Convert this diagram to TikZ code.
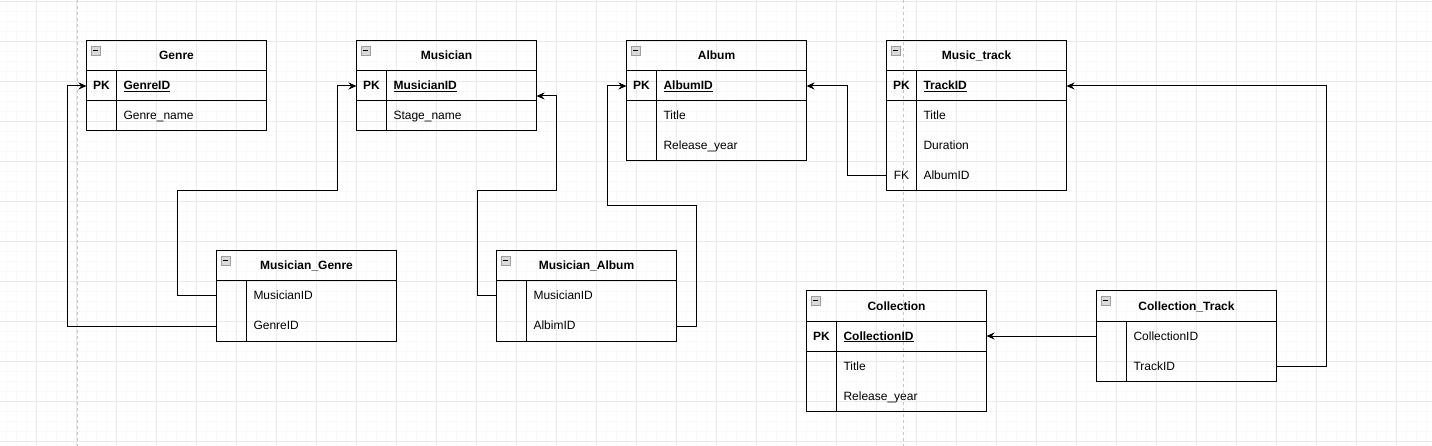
\documentclass[tikz,border=0pt]{standalone}
\usepackage{fontspec}
\setmainfont{Liberation Sans}
\usetikzlibrary{arrows.meta, positioning}

\begin{document}
\begin{tikzpicture}[x=1pt, y=-1pt, >={Stealth[length=8pt, width=7pt]},
    font=\fontsize{12}{14}\selectfont,
    minorgrid/.style={gray!5, line width=0.7pt},
    majorgrid/.style={gray!17, line width=0.8pt},
    pageline/.style={gray!45, line width=0.8pt, dash pattern=on 3pt off 3pt},
    tabhead/.style={draw, line width=1pt, outer sep=0pt, minimum width=180pt,
        minimum height=30pt, text height=10pt, text depth=2pt,
        font=\fontsize{12}{14}\selectfont\bfseries},
    keycell/.style={outer sep=0pt, inner sep=0pt, minimum width=30pt, minimum height=30pt,
        text height=10pt, text depth=2pt},
    field/.style={outer sep=0pt, inner xsep=7pt, inner ysep=0pt, text width=136pt,
        minimum height=30pt, text height=10pt, text depth=2pt, align=left},
    frame/.style={draw, line width=1pt},
    icon/.style={draw=gray!75, fill=gray!30, line width=0.8pt},
    link/.style={->, line width=1pt}]
    \useasboundingbox (0,0) rectangle (1432,446);

    % background grid
    \foreach \gx in {0,...,142} \draw[minorgrid] ({6.5+10*\gx},0) -- ({6.5+10*\gx},446);
    \foreach \gy in {0,...,44} \draw[minorgrid] (0,{1.5+10*\gy}) -- (1432,{1.5+10*\gy});
    \foreach \gx in {0,...,35} \draw[majorgrid] ({36.5+40*\gx},0) -- ({36.5+40*\gx},446);
    \foreach \gy in {0,...,11} \draw[majorgrid] (0,{1.5+40*\gy}) -- (1432,{1.5+40*\gy});
    \draw[pageline] (77,0) -- (77,446);
    \draw[pageline] (903,0) -- (903,446);

    % Genre
    \node[tabhead] (genre) at (176.5,56) {Genre};
    \node[keycell, anchor=north west] (genK1) at (genre.south west) {\bfseries PK};
    \node[field, right=0pt of genK1] (genF1) {\bfseries\underline{GenreID}};
    \node[keycell, below=0pt of genK1] (genK2) {};
    \node[field, right=0pt of genK2] (genF2) {Genre\_name};

    % Musician
    \node[tabhead] (musician) at (446.5,56) {Musician};
    \node[keycell, anchor=north west] (musK1) at (musician.south west) {\bfseries PK};
    \node[field, right=0pt of musK1] (musF1) {\bfseries\underline{MusicianID}};
    \node[keycell, below=0pt of musK1] (musK2) {};
    \node[field, right=0pt of musK2] (musF2) {Stage\_name};

    % Album
    \node[tabhead] (album) at (716.5,56) {Album};
    \node[keycell, anchor=north west] (albK1) at (album.south west) {\bfseries PK};
    \node[field, right=0pt of albK1] (albF1) {\bfseries\underline{AlbumID}};
    \node[keycell, below=0pt of albK1] (albK2) {};
    \node[field, right=0pt of albK2] (albF2) {Title};
    \node[keycell, below=0pt of albK2] (albK3) {};
    \node[field, right=0pt of albK3] (albF3) {Release\_year};

    % Music_track
    \node[tabhead] (track) at (976.5,56) {Music\_track};
    \node[keycell, anchor=north west] (trkK1) at (track.south west) {\bfseries PK};
    \node[field, right=0pt of trkK1] (trkF1) {\bfseries\underline{TrackID}};
    \node[keycell, below=0pt of trkK1] (trkK2) {};
    \node[field, right=0pt of trkK2] (trkF2) {Title};
    \node[keycell, below=0pt of trkK2] (trkK3) {};
    \node[field, right=0pt of trkK3] (trkF3) {Duration};
    \node[keycell, below=0pt of trkK3] (trkK4) {FK};
    \node[field, right=0pt of trkK4] (trkF4) {AlbumID};

    % Musician_Genre
    \node[tabhead] (musgenre) at (306.5,266) {Musician\_Genre};
    \node[keycell, anchor=north west] (mgK1) at (musgenre.south west) {};
    \node[field, right=0pt of mgK1] (mgF1) {MusicianID};
    \node[keycell, below=0pt of mgK1] (mgK2) {};
    \node[field, right=0pt of mgK2] (mgF2) {GenreID};

    % Musician_Album
    \node[tabhead] (musalbum) at (586.5,266) {Musician\_Album};
    \node[keycell, anchor=north west] (maK1) at (musalbum.south west) {};
    \node[field, right=0pt of maK1] (maF1) {MusicianID};
    \node[keycell, below=0pt of maK1] (maK2) {};
    \node[field, right=0pt of maK2] (maF2) {AlbimID};

    % Collection
    \node[tabhead] (collection) at (896.5,306) {Collection};
    \node[keycell, anchor=north west] (colK1) at (collection.south west) {\bfseries PK};
    \node[field, right=0pt of colK1] (colF1) {\bfseries\underline{CollectionID}};
    \node[keycell, below=0pt of colK1] (colK2) {};
    \node[field, right=0pt of colK2] (colF2) {Title};
    \node[keycell, below=0pt of colK2] (colK3) {};
    \node[field, right=0pt of colK3] (colF3) {Release\_year};

    % Collection_Track
    \node[tabhead] (coltrack) at (1186.5,306) {Collection\_Track};
    \node[keycell, anchor=north west] (ctK1) at (coltrack.south west) {};
    \node[field, right=0pt of ctK1] (ctF1) {CollectionID};
    \node[keycell, below=0pt of ctK1] (ctK2) {};
    \node[field, right=0pt of ctK2] (ctF2) {TrackID};

    % table frames, key columns and PK rows
    \draw[frame] (genre.south west) rectangle (genF2.south east);
    \draw[frame] (genK1.north east) -- (genK2.south east);
    \draw[frame] (genK1.south west) -- (genF1.south east);
    \draw[frame] (musician.south west) rectangle (musF2.south east);
    \draw[frame] (musK1.north east) -- (musK2.south east);
    \draw[frame] (musK1.south west) -- (musF1.south east);
    \draw[frame] (album.south west) rectangle (albF3.south east);
    \draw[frame] (albK1.north east) -- (albK3.south east);
    \draw[frame] (albK1.south west) -- (albF1.south east);
    \draw[frame] (track.south west) rectangle (trkF4.south east);
    \draw[frame] (trkK1.north east) -- (trkK4.south east);
    \draw[frame] (trkK1.south west) -- (trkF1.south east);
    \draw[frame] (musgenre.south west) rectangle (mgF2.south east);
    \draw[frame] (mgK1.north east) -- (mgK2.south east);
    \draw[frame] (musalbum.south west) rectangle (maF2.south east);
    \draw[frame] (maK1.north east) -- (maK2.south east);
    \draw[frame] (collection.south west) rectangle (colF3.south east);
    \draw[frame] (colK1.north east) -- (colK3.south east);
    \draw[frame] (colK1.south west) -- (colF1.south east);
    \draw[frame] (coltrack.south west) rectangle (ctF2.south east);
    \draw[frame] (ctK1.north east) -- (ctK2.south east);

    % collapse icons
    \foreach \t in {genre, musician, album, track, musgenre, musalbum, collection, coltrack} {
        \draw[icon] ([xshift=4.5pt, yshift=-5pt]\t.north west) rectangle ++(9,9);
        \draw[line width=1.2pt] ([xshift=6.5pt, yshift=-9.5pt]\t.north west) -- ++(5,0);
    }

    % relations
    \draw[link] (mgK1.west) -| (177,191) -| (337,86) -- (musK1.west);
    \draw[link] (mgK2.west) -| (67,86) -- (genK1.west);
    \draw[link] (maK1.west) -| (477,191) -| (556,96) -- ([yshift=-10pt]musF1.east);
    \draw[link] (maF2.east) -| (696,206) -| (607,86) -- (albK1.west);
    \draw[link] (trkK4.west) -| (847,86) -- (albF1.east);
    \draw[link] (ctF2.east) -| (1326,86) -- (trkF1.east);
    \draw[link] (ctK1.west) -- (colF1.east);
\end{tikzpicture}
\end{document}
